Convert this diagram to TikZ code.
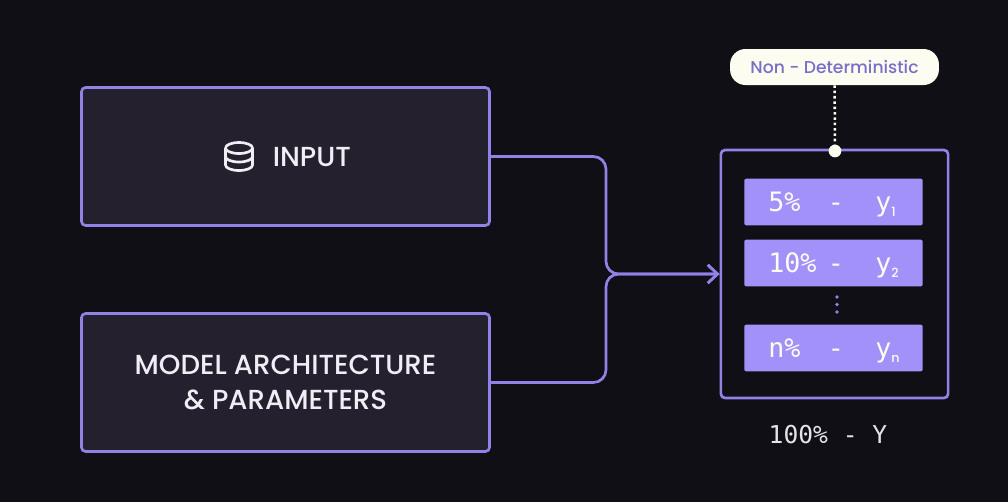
\documentclass[tikz,border=0pt]{standalone}
\usepackage{fontspec}
\setmainfont{Poppins Medium}
\setmonofont{DejaVu Sans Mono}
\usepackage{xcolor}
\usetikzlibrary{arrows.meta, positioning}
\definecolor{NDBack}{RGB}{16,15,21}
\definecolor{NDPanel}{RGB}{36,32,46}
\definecolor{NDLine}{RGB}{146,129,230}
\definecolor{NDBar}{RGB}{163,145,250}
\definecolor{NDPill}{RGB}{253,252,240}
\definecolor{NDInk}{RGB}{122,111,198}
\definecolor{NDText}{RGB}{240,238,244}

\begin{document}
\begin{tikzpicture}[
      x=0.025cm, y=-0.025cm,
      panel/.style={rectangle, rounded corners=3pt, draw=NDLine, line width=1.9pt, fill=NDPanel,
                    minimum width=10.2cm, minimum height=3.45cm, inner sep=0pt,
                    align=center, text=NDText, font=\fontsize{19.6}{25.5}\selectfont},
      wire/.style={-{Straight Barb[length=7pt, width=13pt]}, line width=1.9pt, NDLine, rounded corners=9pt},
      bar/.style={rectangle, rounded corners=1.5pt, fill=NDBar,
                  minimum width=4.46cm, minimum height=1.17cm, inner sep=0pt},
      barlbl/.style={inner sep=0pt, text=NDPill, font=\ttfamily\fontsize{19}{20}\selectfont}
    ]
    % Backdrop
    \fill[NDBack] (0,0) rectangle (1008,502);
    \useasboundingbox (0,0) rectangle (1008,502);

    % Input and model panels
    \node[panel] (input) at (285.5,156.5) {};
    \node[panel] (model) at (285.5,382.5) {MODEL ARCHITECTURE\\\& PARAMETERS};
    \node[inner sep=0pt, text=NDText, font=\fontsize{19.6}{24}\selectfont, anchor=west]
          (inputlbl) at (272.5,157) {INPUT};

    % Database icon
    \draw[NDText, line width=1.9pt]
          (225.5,148) arc[start angle=180, end angle=-180, x radius=13.5, y radius=5.5]
          (225.5,148) -- (225.5,165) arc[start angle=180, end angle=360, x radius=13.5, y radius=-5.5]
          -- (252.5,148)
          (225.5,156.5) arc[start angle=180, end angle=360, x radius=13.5, y radius=-5.5];

    % Result panel
    \node[rectangle, rounded corners=3pt, draw=NDLine, line width=1.9pt, fill=NDBack,
          minimum width=5.68cm, minimum height=6.2cm, inner sep=0pt]
          (result) at (834.5,274) {};

    % Probability bars
    \foreach \i/\y/\p/\s in {1/202/5/1, 2/263/10/2, 3/348/n/n} {
      \node[bar] (bar\i) at (833.5,\y) {};
      \node[barlbl, anchor=base west] (pct\i) at (768,\y+9.5) {\p\%};
      \node[barlbl, anchor=base] (dash\i) at (836,\y+9.5) {-};
      \node[barlbl, anchor=base west] (val\i) at (875,\y+9.5)
            {y\raisebox{-0.35ex}{\fontsize{9}{9}\selectfont\rmfamily\s}};
    }
    \foreach \y in {297,304.5,312} {
      \node[circle, fill=NDLine, minimum size=2.8pt, inner sep=0pt] at (837,\y) {};
    }
    \node[inner sep=0pt, text=NDText!90!gray, font=\ttfamily\fontsize{17.5}{20}\selectfont]
          (total) at (828,435) {100\% - Y};

    % Connectors
    \coordinate (hub) at (606,274);
    \draw[wire] (input.east) -| (hub) -- (result.west);
    \draw[wire] (model.east) -| (hub) -- (result.west);

    % Pill
    \node[rectangle, rounded corners=11pt, fill=NDPill, text=NDInk,
          minimum width=5.22cm, minimum height=0.9cm, inner sep=0pt,
          font=\fontsize{12.2}{15}\selectfont]
          (pill) at (834.5,67) {Non - Deterministic};
    \node[circle, fill=NDPill, minimum size=9pt, inner sep=0pt] (pin) at (835,151) {};
    \draw[NDPill, line width=1.8pt, dotted] (pill) -- (pin);
  \end{tikzpicture}
\end{document}
